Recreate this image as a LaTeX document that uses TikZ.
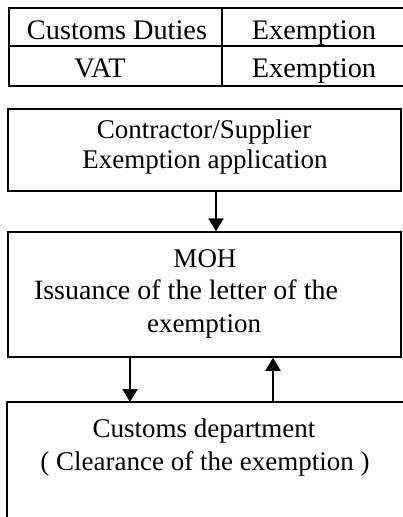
\documentclass[tikz,border=0pt]{standalone}
\usepackage{fontspec}
\setmainfont{Liberation Serif}
\usetikzlibrary{arrows.meta}
\begin{document}
\begin{tikzpicture}[x=1pt,y=-1pt,
  txt/.style={anchor=base,inner sep=0pt,font=\fontsize{27}{32}\selectfont},
  tabtxt/.style={txt,font=\fontsize{28.3}{33}\selectfont},
  boxstyle/.style={draw,line width=1.7pt,inner sep=0pt},
  tabline/.style={line width=2.6pt},
  flow/.style={line width=2pt,-{Triangle[length=13pt,width=15pt]}}]
\useasboundingbox (0,0) rectangle (403,517);
\clip (0,0) rectangle (403,517);
% table
\draw[tabline] (420,8) -- (9,8) -- (9,86) -- (420,86);
\draw[tabline] (9,46) -- (420,46);
\draw[tabline] (222,8) -- (222,86);
\node[tabtxt] (cd) at (117,39) {Customs Duties};
\node[tabtxt] (e1) at (314,39) {Exemption};
\node[tabtxt] (vat) at (100,77) {VAT};
\node[tabtxt] (e2) at (314,77) {Exemption};
% boxes
\node[boxstyle,minimum width=393pt,minimum height=82pt] (b1) at (204.5,150) {};
\node[txt] (t1a) at (204,138) {Contractor/Supplier};
\node[txt] (t1b) at (205,168) {Exemption application};
\node[boxstyle,line width=1.5pt,minimum width=393pt,minimum height=125pt] (b2) at (204.5,294.5) {};
\node[txt] (t2a) at (205,267) {MOH};
\node[txt,font=\fontsize{28}{33}\selectfont] (t2b) at (186,299) {Issuance of the letter of the};
\node[txt] (t2c) at (204,332) {exemption};
\coordinate (b3nw) at (7,402);
\draw[line width=1.5pt] (420,402) -- (b3nw) -- (7,530);
\node[txt] (t3a) at (204,437) {Customs department};
\node[txt] (t3b) at (205,470) {( Clearance of the exemption )};
% arrows
\coordinate (xa) at (216,0);
\coordinate (xb) at (130,0);
\coordinate (xc) at (273,0);
\draw[flow] (b1.south -| xa) -- (b2.north -| xa);
\draw[flow] (b2.south -| xb) -- (b3nw -| xb);
\draw[flow] (b3nw -| xc) -- (b2.south -| xc);
\end{tikzpicture}
\end{document}
